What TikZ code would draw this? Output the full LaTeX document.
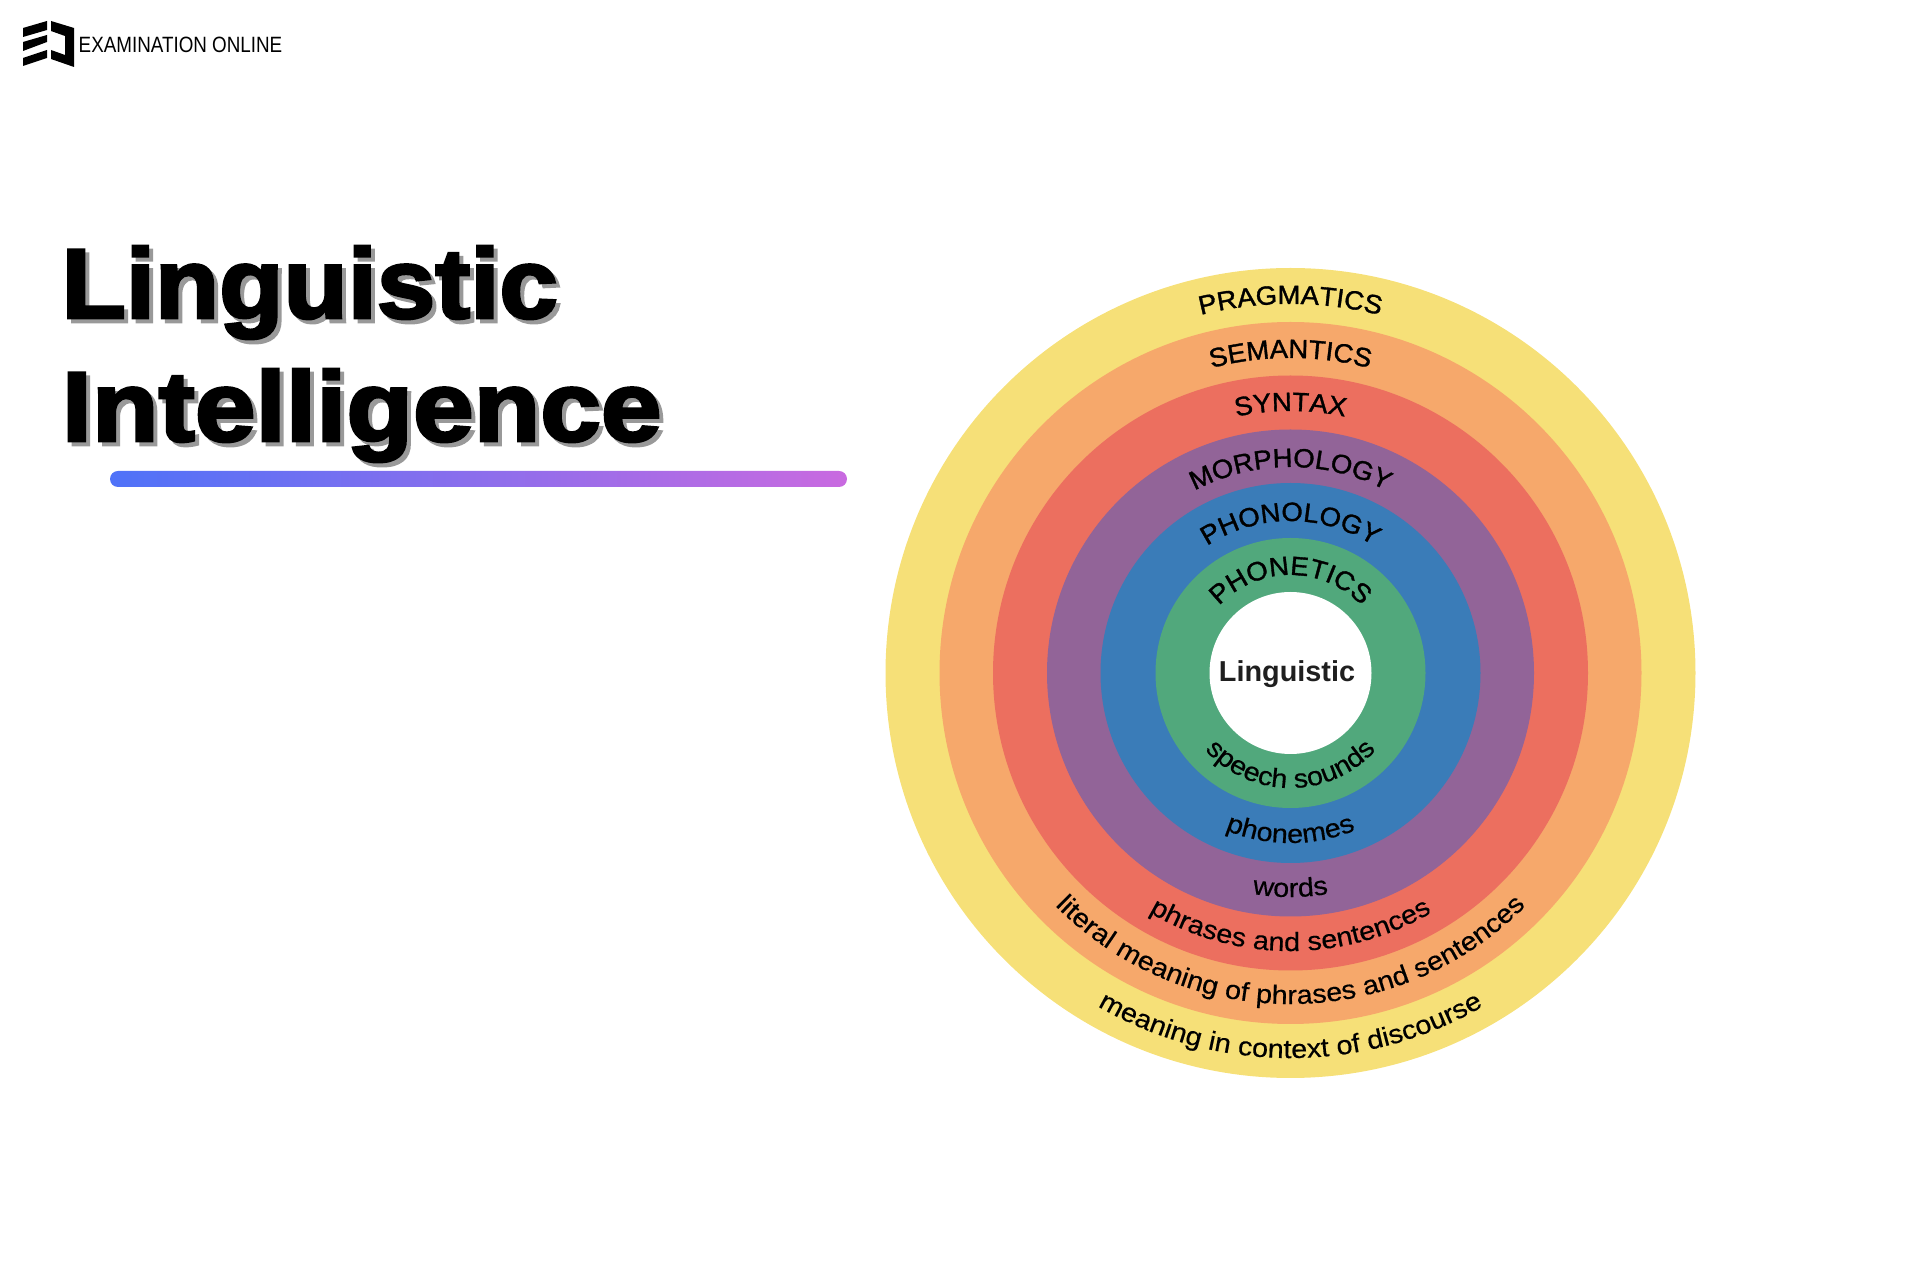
\documentclass[tikz,border=0pt]{standalone}
\usepackage{fontspec}
\usepackage{xcolor}
\usetikzlibrary{calc, decorations.text}
\setmainfont{Liberation Sans}
\newfontfamily\titleface[FakeBold=3,FakeStretch=1.06]{Liberation Sans Bold}
\newfontfamily\titlewideface[FakeBold=3,FakeStretch=1.10]{Liberation Sans Bold}
\newfontfamily\capsface[FakeBold=1.3,FakeStretch=1.04]{Liberation Sans}
\newfontfamily\smallface[FakeBold=0.4,FakeStretch=1.09]{Liberation Sans}
\newfontfamily\brandface[FakeStretch=0.85]{Liberation Sans}
\newcommand{\capsfont}{\capsface\fontsize{7.5}{9}\selectfont}
\newcommand{\smallfont}{\smallface\fontsize{7.5}{9}\selectfont}
\definecolor{cPragmatics}{HTML}{F6E078}
\definecolor{cSemantics}{HTML}{F6A86B}
\definecolor{cSyntax}{HTML}{EC6F5F}
\definecolor{cMorphology}{HTML}{926498}
\definecolor{cPhonology}{HTML}{3A7CB8}
\definecolor{cPhonetics}{HTML}{51A87C}
\definecolor{cBarLeft}{HTML}{4F72F8}
\definecolor{cBarRight}{HTML}{C96AE0}
\tikzset{
	ring/.style     ={circle, inner sep=0pt, draw=none},
	heading/.style  ={anchor=base west, inner sep=0pt, font=\titleface\fontsize{28.2}{34}\selectfont},
	headingwide/.style={anchor=base west, inner sep=0pt, font=\titlewideface\fontsize{28.2}{34}\selectfont},
	capsarc/.style  ={decorate, decoration={text along path, text align=center, text={|\capsfont|#1}}},
	smallarc/.style ={decorate, decoration={text along path, text align=center, text={|\smallfont|#1}}},
}

\begin{document}
\begin{tikzpicture}[x=0.1mm, y=0.1mm]
	\useasboundingbox (0,0) rectangle (1920,1280);
	\coordinate (hub) at (1290.5,607);
	% logo
	\fill[black] (23,1252) -- (47,1259) -- (47,1250) -- (23,1243) -- cycle;
	\fill[black] (23,1238) -- (47,1245) -- (47,1238) -- (23,1229) -- cycle;
	\fill[black] (23,1222) -- (47,1230) -- (47,1222) -- (23,1214) -- cycle;
	\fill[black] (51,1259) -- (74,1252) -- (74,1213) -- (51,1221) -- (51,1230) -- (65,1225) -- (65,1244) -- (51,1249) -- cycle;
	\node[anchor=base west, inner sep=0pt, font=\brandface\fontsize{6.3}{8}\selectfont] (brand) at (78,1227) {EXAMINATION ONLINE};
	% title with its shadow
	\node[heading, text=black!40] (titleAshadow) at (65,958) {Linguistic};
	\node[headingwide, text=black!40] (titleBshadow) at (65,835) {Intelligence};
	\node[heading] (titleA) at (61,962) {Linguistic};
	\node[headingwide] (titleB) at (61,839) {Intelligence};
	\node[rectangle, inner sep=0pt, minimum width=7.37cm, minimum height=0.16cm, rounded corners=0.08cm, left color=cBarLeft, right color=cBarRight] (bar) at (478.5,801) {};
	% rings
	\node[ring, fill=cPragmatics, minimum size=8.10cm] (pragmatics) at (hub) {};
	\node[ring, fill=cSemantics, minimum size=7.02cm] (semantics) at (hub) {};
	\node[ring, fill=cSyntax, minimum size=5.95cm] (syntax) at (hub) {};
	\node[ring, fill=cMorphology, minimum size=4.87cm] (morphology) at (hub) {};
	\node[ring, fill=cPhonology, minimum size=3.80cm] (phonology) at (hub) {};
	\node[ring, fill=cPhonetics, minimum size=2.70cm] (phonetics) at (hub) {};
	\node[ring, fill=white, minimum size=1.62cm] (core) at (hub) {};
	\node[inner sep=0pt, text=black!88, font=\bfseries\fontsize{8.2}{10}\selectfont] (coreLabel) at (1287,606) {Linguistic};
	% upper labels
	\path[capsarc=PRAGMATICS] ([shift={(170:369)}]hub) arc[start angle=170, end angle=10, radius=369];
	\path[capsarc=SEMANTICS] ([shift={(170:315)}]hub) arc[start angle=170, end angle=10, radius=315];
	\path[capsarc=SYNTAX] ([shift={(170:262)}]hub) arc[start angle=170, end angle=10, radius=262];
	\path[capsarc=MORPHOLOGY] ([shift={(170:206)}]hub) arc[start angle=170, end angle=10, radius=206];
	\path[capsarc=PHONOLOGY] ([shift={(170:152)}]hub) arc[start angle=170, end angle=10, radius=152];
	\path[capsarc=PHONETICS] ([shift={(170:98)}]hub) arc[start angle=170, end angle=10, radius=98];
	% lower labels
	\path[smallarc={meaning in context of discourse}] ([shift={(190:385)}]hub) arc[start angle=190, end angle=350, radius=385];
	\path[smallarc={literal meaning of phrases and sentences}] ([shift={(190:331)}]hub) arc[start angle=190, end angle=350, radius=331];
	\path[smallarc={phrases and sentences}] ([shift={(190:278)}]hub) arc[start angle=190, end angle=350, radius=278];
	\path[smallarc={words}] ([shift={(190:224)}]hub) arc[start angle=190, end angle=350, radius=224];
	\path[smallarc={phonemes}] ([shift={(190:170)}]hub) arc[start angle=190, end angle=350, radius=170];
	\path[smallarc={speech sounds}] ([shift={(190:115)}]hub) arc[start angle=190, end angle=350, radius=115];
\end{tikzpicture}
\end{document}
